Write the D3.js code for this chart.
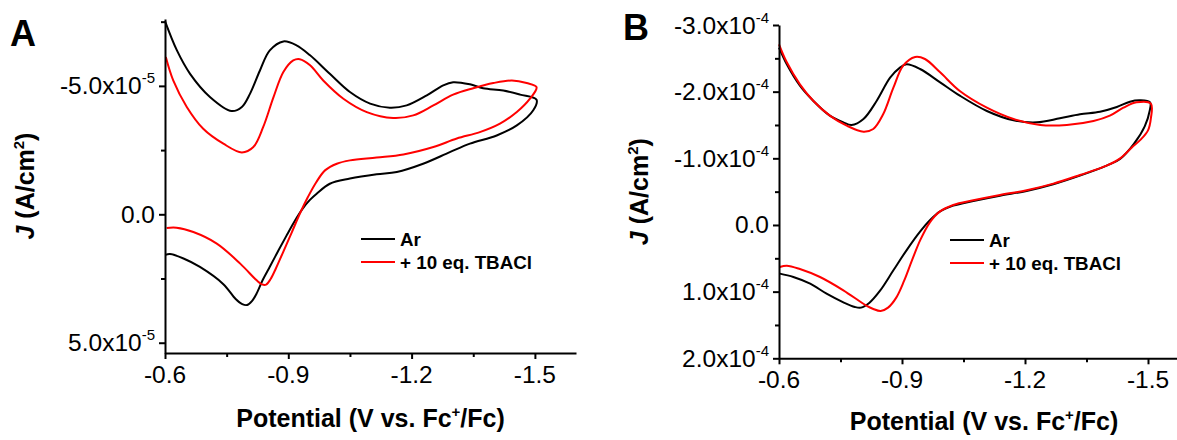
<!DOCTYPE html>
<html>
<head>
<meta charset="utf-8">
<script src="https://cdn.jsdelivr.net/npm/d3@7"></script>
<style>
  html, body { margin: 0; padding: 0; background: #fff; }
  svg { display: block; }
  text { font-family: 'Liberation Sans', Arial, Helvetica, sans-serif; fill: #000; }
</style>
</head>
<body>
<svg id="chart" width="1177" height="440"></svg>
<script>
// ---------- DATA ----------
// Potential (V vs. Fc+/Fc) and current density J.
// Panel A: J in units of 1e-5 A/cm^2 ; Panel B: J in units of 1e-4 A/cm^2
const seriesNames = ["Ar", "+ 10 eq. TBACl"];

const panelA_Ar = [
  [-0.600,-7.52],[-0.629,-6.38],[-0.661,-5.47],[-0.710,-4.56],[-0.762,-4.02],[-0.787,-4.18],
  [-0.807,-4.70],[-0.831,-5.60],[-0.855,-6.38],[-0.888,-6.73],[-0.920,-6.58],[-0.953,-6.19],
  [-1.001,-5.47],[-1.050,-4.76],[-1.099,-4.31],[-1.147,-4.15],[-1.188,-4.24],[-1.237,-4.63],
  [-1.277,-5.02],[-1.301,-5.14],[-1.342,-5.06],[-1.374,-4.91],[-1.423,-4.82],[-1.464,-4.66],
  [-1.504,-4.46],
  [-1.496,-4.05],[-1.456,-3.46],[-1.407,-3.07],[-1.342,-2.75],[-1.293,-2.42],[-1.228,-1.97],
  [-1.164,-1.65],[-1.115,-1.56],[-1.050,-1.39],[-1.001,-1.19],[-0.969,-0.80],[-0.952,-0.55],
  [-0.935,-0.22],[-0.915,0.28],[-0.895,0.85],[-0.875,1.44],[-0.855,2.04],[-0.838,2.55],
  [-0.824,3.05],[-0.812,3.37],[-0.800,3.53],[-0.788,3.50],[-0.772,3.30],[-0.742,2.72],
  [-0.685,2.05],[-0.645,1.72],[-0.612,1.55],[-0.601,1.58]
];
const panelA_TBACl = [
  [-0.602,-6.12],[-0.620,-5.21],[-0.653,-4.18],[-0.693,-3.33],[-0.742,-2.75],[-0.787,-2.41],
  [-0.815,-2.62],[-0.839,-3.40],[-0.864,-4.56],[-0.888,-5.54],[-0.912,-5.99],[-0.928,-6.04],
  [-0.953,-5.80],[-0.985,-5.21],[-1.034,-4.50],[-1.091,-3.98],[-1.155,-3.75],[-1.204,-3.85],
  [-1.253,-4.24],[-1.301,-4.66],[-1.350,-4.91],[-1.399,-5.11],[-1.444,-5.21],[-1.480,-5.11],
  [-1.504,-4.95],
  [-1.488,-4.50],[-1.456,-3.98],[-1.415,-3.53],[-1.366,-3.20],[-1.310,-2.95],[-1.253,-2.62],
  [-1.180,-2.33],[-1.115,-2.21],[-1.050,-2.10],[-1.018,-1.97],[-0.990,-1.72],[-0.968,-1.25],
  [-0.948,-0.68],[-0.928,-0.02],[-0.908,0.72],[-0.888,1.45],[-0.870,2.10],[-0.857,2.52],
  [-0.846,2.74],[-0.836,2.73],[-0.823,2.57],[-0.783,1.92],[-0.726,1.14],[-0.669,0.69],
  [-0.628,0.52],[-0.604,0.53]
];
const panelB_Ar = [
  [-0.600,-2.66],[-0.619,-2.41],[-0.651,-2.09],[-0.684,-1.86],[-0.724,-1.64],[-0.757,-1.54],
  [-0.777,-1.50],[-0.806,-1.59],[-0.838,-1.86],[-0.871,-2.21],[-0.895,-2.36],[-0.911,-2.41],
  [-0.944,-2.34],[-0.993,-2.14],[-1.041,-1.94],[-1.107,-1.71],[-1.172,-1.57],[-1.229,-1.54],
  [-1.285,-1.60],[-1.334,-1.66],[-1.383,-1.70],[-1.424,-1.77],[-1.456,-1.85],[-1.480,-1.87],
  [-1.505,-1.84],
  [-1.504,-1.71],[-1.492,-1.48],[-1.466,-1.22],[-1.432,-0.99],[-1.399,-0.89],[-1.334,-0.74],
  [-1.269,-0.61],[-1.204,-0.51],[-1.139,-0.44],[-1.074,-0.36],[-1.025,-0.29],[-0.992,-0.20],
  [-0.968,-0.07],[-0.944,0.10],[-0.911,0.38],[-0.879,0.68],[-0.846,0.99],[-0.820,1.17],
  [-0.800,1.24],[-0.785,1.23],[-0.757,1.16],[-0.716,1.03],[-0.676,0.88],[-0.635,0.78],
  [-0.602,0.73]
];
const panelB_TBACl = [
  [-0.600,-2.71],[-0.619,-2.44],[-0.651,-2.11],[-0.684,-1.86],[-0.724,-1.64],[-0.765,-1.49],
  [-0.806,-1.40],[-0.830,-1.44],[-0.854,-1.66],[-0.879,-2.06],[-0.903,-2.39],[-0.932,-2.52],
  [-0.956,-2.49],[-0.993,-2.29],[-1.041,-2.01],[-1.107,-1.76],[-1.172,-1.59],[-1.237,-1.50],
  [-1.302,-1.50],[-1.367,-1.56],[-1.407,-1.64],[-1.440,-1.76],[-1.472,-1.84],[-1.507,-1.82],
  [-1.507,-1.60],[-1.500,-1.42],[-1.482,-1.28],[-1.460,-1.16],[-1.432,-1.00],[-1.399,-0.89],
  [-1.334,-0.75],[-1.269,-0.62],[-1.204,-0.52],[-1.139,-0.45],[-1.074,-0.37],[-1.025,-0.30],
  [-0.992,-0.20],[-0.968,-0.04],[-0.945,0.22],[-0.925,0.52],[-0.905,0.84],[-0.886,1.09],
  [-0.866,1.24],[-0.848,1.29],[-0.830,1.26],[-0.813,1.21],[-0.757,0.98],[-0.700,0.78],
  [-0.651,0.66],[-0.619,0.61],[-0.602,0.63]
];

// Tick values and labels
const xMajorTicks = [-0.6, -0.9, -1.2, -1.5];
const xMajorLabels = ["-0.6", "-0.9", "-1.2", "-1.5"];
const xMinorTicks = [-0.75, -1.05, -1.35];

const yA_MajorTicks = [-5, 0, 5];
const yA_LabelBase = ["-5.0x10", "0.0", "5.0x10"];
const yA_LabelExp = ["-5", "", "-5"];
const yA_MinorTicks = [-7.5, -2.5, 2.5];

const yB_MajorTicks = [-3, -2, -1, 0, 1, 2];
const yB_LabelBase = ["-3.0x10", "-2.0x10", "-1.0x10", "0.0", "1.0x10", "2.0x10"];
const yB_LabelExp = ["-4", "-4", "-4", "", "-4", "-4"];
const yB_MinorTicks = [-2.5, -1.5, -0.5, 0.5, 1.5];

const colors = ["#000000", "#ff0000"];

// ---------- DRAW ----------
const svg = d3.select("#chart");

function panel(cfg) {
  const g = svg.append("g");
  const x = d3.scaleLinear().domain([-0.6, -1.6]).range(cfg.xRange);
  const y = d3.scaleLinear().domain(cfg.yDomain).range(cfg.yRange);

  const line = d3.line()
    .x(d => x(d[0])).y(d => y(d[1]))
    .curve(d3.curveCatmullRom.alpha(0.5));

  // curves
  cfg.series.forEach((s, i) => {
    g.append("path").datum(s)
      .attr("d", line)
      .attr("fill", "none")
      .attr("stroke", colors[i])
      .attr("stroke-width", 2)
      .attr("stroke-linejoin", "round");
  });

  const y0 = cfg.yRange[1];
  const x0 = cfg.xRange[0];

  // x axis
  const xAxisMajor = d3.axisBottom(x).tickValues(xMajorTicks).tickSize(6).tickSizeOuter(0).tickFormat("");
  const xAxisMinor = d3.axisBottom(x).tickValues(xMinorTicks).tickSize(4).tickSizeOuter(0).tickFormat("");
  g.append("g").attr("transform", `translate(0,${y0})`).call(xAxisMajor);
  g.append("g").attr("transform", `translate(0,${y0})`).call(xAxisMinor).select(".domain").remove();
  // y axis
  const yAxisMajor = d3.axisLeft(y).tickValues(cfg.yMajor).tickSize(6).tickSizeOuter(0).tickFormat("");
  const yAxisMinor = d3.axisLeft(y).tickValues(cfg.yMinor).tickSize(4).tickSizeOuter(0).tickFormat("");
  g.append("g").attr("transform", `translate(${x0},0)`).call(yAxisMajor);
  g.append("g").attr("transform", `translate(${x0},0)`).call(yAxisMinor).select(".domain").remove();

  g.selectAll(".domain").attr("stroke", "#000").attr("stroke-width", 2);
  g.selectAll(".tick line").attr("stroke", "#000").attr("stroke-width", 2);

  // x tick labels
  g.selectAll(".xlab").data(xMajorTicks).enter().append("text")
    .attr("x", d => x(d)).attr("y", y0 + cfg.xLabelDy)
    .attr("text-anchor", "middle").attr("font-size", 24.5)
    .text((d, i) => xMajorLabels[i]);

  // y tick labels with superscript exponent
  cfg.yMajor.forEach((v, i) => {
    const t = g.append("text")
      .attr("x", x0 - 10).attr("y", y(v) + 8.5)
      .attr("text-anchor", "end").attr("font-size", 24.5);
    t.append("tspan").text(cfg.yBase[i]);
    if (cfg.yExp[i]) {
      t.append("tspan").attr("dy", -11).attr("font-size", 15).text(cfg.yExp[i]);
    }
  });

  // x axis title
  const xt = g.append("text")
    .attr("x", (cfg.xRange[0] + cfg.xRange[1]) / 2).attr("y", cfg.xTitleY)
    .attr("text-anchor", "middle").attr("font-size", 25).attr("font-weight", "bold");
  xt.append("tspan").text("Potential (V vs. Fc");
  xt.append("tspan").attr("dy", -10).attr("font-size", 15).text("+");
  xt.append("tspan").attr("dy", 10).text("/Fc)");

  // y axis title
  const yt = g.append("text")
    .attr("transform", `translate(${cfg.yTitleX},${(cfg.yRange[0] + cfg.yRange[1]) / 2}) rotate(-90)`)
    .attr("text-anchor", "middle").attr("font-size", 25).attr("font-weight", "bold");
  yt.append("tspan").attr("font-style", "italic").text("J");
  yt.append("tspan").text(" (A/cm");
  yt.append("tspan").attr("dy", -10).attr("font-size", 15).text("2");
  yt.append("tspan").attr("dy", 10).text(")");

  // panel letter
  g.append("text").attr("x", cfg.letterX).attr("y", cfg.letterY)
    .attr("font-size", 36).attr("font-weight", "bold").text(cfg.letter);

  // legend
  const lg = g.append("g").attr("transform", `translate(${cfg.legendX},${cfg.legendY})`);
  seriesNames.forEach((name, i) => {
    lg.append("line").attr("x1", 0).attr("x2", 34).attr("y1", i * 23).attr("y2", i * 23)
      .attr("stroke", colors[i]).attr("stroke-width", 2);
    lg.append("text").attr("x", 39).attr("y", i * 23 + 6.5)
      .attr("font-size", 18.8).attr("font-weight", "bold").text(name);
  });
}

panel({
  letter: "A", letterX: 10, letterY: 46,
  xRange: [165, 576], yDomain: [-7.6, 5.4], yRange: [19.1, 353],
  yMajor: yA_MajorTicks, yMinor: yA_MinorTicks, yBase: yA_LabelBase, yExp: yA_LabelExp,
  series: [panelA_Ar, panelA_TBACl],
  xLabelDy: 30, xTitleY: 427, yTitleX: 34,
  legendX: 361, legendY: 239
});

panel({
  letter: "B", letterX: 623, letterY: 40,
  xRange: [779, 1189], yDomain: [-3, 2], yRange: [25, 358.3],
  yMajor: yB_MajorTicks, yMinor: yB_MinorTicks, yBase: yB_LabelBase, yExp: yB_LabelExp,
  series: [panelB_Ar, panelB_TBACl],
  xLabelDy: 30, xTitleY: 430, yTitleX: 648,
  legendX: 950, legendY: 240
});
</script>
</body>
</html>
